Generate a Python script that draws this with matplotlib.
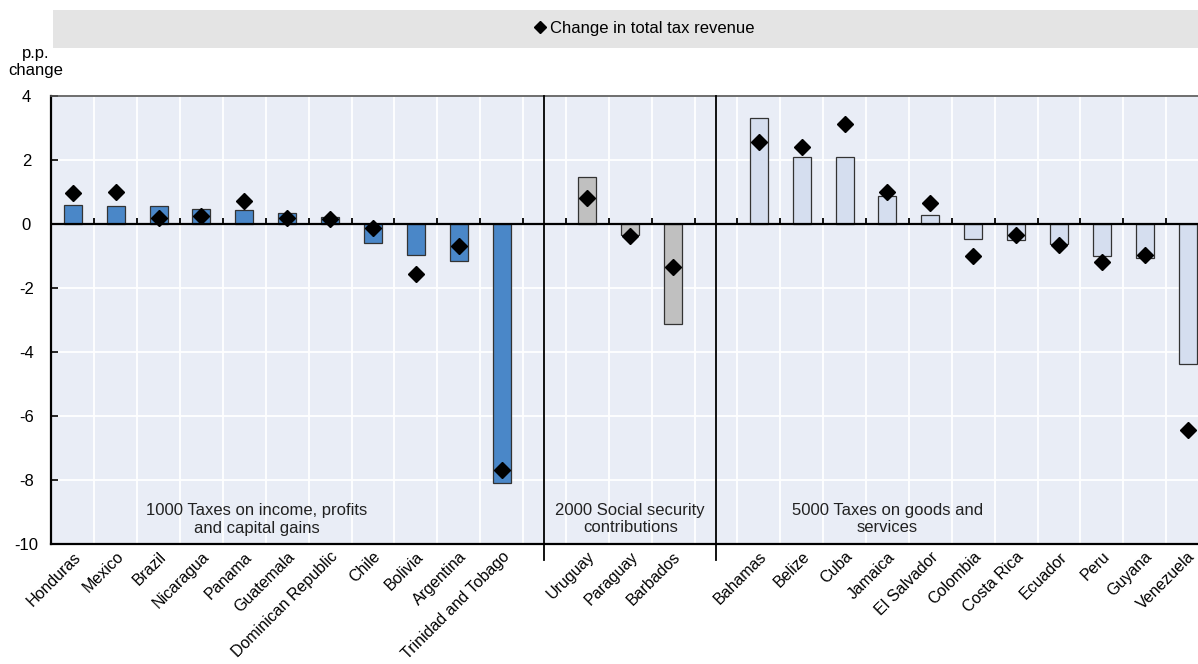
import matplotlib
matplotlib.use("Agg")
import matplotlib.pyplot as plt
from matplotlib.lines import Line2D
import numpy as np

plt.rcParams['font.family'] = ['Liberation Sans', 'DejaVu Sans']

group1 = ["Honduras", "Mexico", "Brazil", "Nicaragua", "Panama", "Guatemala",
          "Dominican Republic", "Chile", "Bolivia", "Argentina", "Trinidad and Tobago"]
bars1 = [0.58, 0.55, 0.54, 0.44, 0.41, 0.34, 0.19, -0.62, -0.97, -1.16, -8.10]
total1 = [0.96, 0.97, 0.18, 0.23, 0.70, 0.18, 0.13, -0.15, -1.58, -0.70, -7.70]

group2 = ["Uruguay", "Paraguay", "Barbados"]
bars2 = [1.44, -0.37, -3.15]
total2 = [0.81, -0.40, -1.37]

group3 = ["Bahamas", "Belize", "Cuba", "Jamaica", "El Salvador", "Colombia",
          "Costa Rica", "Ecuador", "Peru", "Guyana", "Venezuela"]
bars3 = [3.30, 2.09, 2.07, 0.85, 0.26, -0.47, -0.50, -0.63, -1.03, -1.09, -4.40]
total3 = [2.54, 2.39, 3.11, 0.98, 0.63, -1.03, -0.37, -0.68, -1.21, -0.97, -6.46]

group_labels = ["1000 Taxes on income, profits\nand capital gains",
                "2000 Social security\ncontributions",
                "5000 Taxes on goods and\nservices"]
legend_label = "Change in total tax revenue"
y_ticks = [4, 2, 0, -2, -4, -6, -8, -10]

colors = ["#4a87c8", "#c0c0c0", "#d5deef"]
bg = "#e9edf6"

fig = plt.figure(figsize=(11.98, 6.64), dpi=100)
ax = fig.add_axes([51.4 / 1198, (664 - 543.5) / 664, (1209 - 51.4) / 1198, (543.5 - 95.5) / 664])
ax.set_facecolor(bg)

groups = [(group1, bars1, total1), (group2, bars2, total2), (group3, bars3, total3)]
xpos_all, names_all = [], []
start = 0
seps = []
for gi, (names, vals, tots) in enumerate(groups):
    x = np.arange(start, start + len(names))
    ax.bar(x, vals, width=0.42, color=colors[gi], edgecolor="#333333", linewidth=0.9, zorder=3)
    ax.plot(x, tots, linestyle="none", marker="D", color="black", markersize=8.5, zorder=4)
    xpos_all.extend(x)
    names_all.extend(names)
    start += len(names)
    if gi < 2:
        seps.append(start)
        start += 1

n_slots = start
ax.set_xlim(-0.5, n_slots - 0.5)
ax.set_ylim(-10, 4)

# gridlines at slot boundaries
bnds = np.arange(0.5, n_slots - 0.5, 1.0)
for b in bnds:
    ax.axvline(b, color="white", lw=1.3, zorder=1)
for yv in y_ticks:
    ax.axhline(yv, color="white", lw=1.3, zorder=1)

# zero line and small ticks on it
ax.axhline(0, color="black", lw=1.6, zorder=5)
ax.vlines(bnds, 0, 0.16, color="black", lw=1.3, zorder=5)

# separators extending below axis
for s in seps:
    ax.plot([s, s], [4, -10.5], color="black", lw=1.3, zorder=6, clip_on=False)

# group labels
ax.text(4.29, -9.75, group_labels[0], ha="center", va="bottom", fontsize=12, color="#222222", zorder=6, linespacing=1.2)
ax.text(13.0, -9.75, group_labels[1], ha="center", va="bottom", fontsize=12, color="#222222", zorder=6, linespacing=1.2)
ax.text(19.0, -9.75, group_labels[2], ha="center", va="bottom", fontsize=12, color="#222222", zorder=6, linespacing=1.2)

ax.set_xticks(xpos_all)
ax.set_xticklabels(names_all, rotation=45, ha="right", rotation_mode="anchor", fontsize=11.5)
ax.tick_params(axis="x", length=0, pad=4)
ax.set_yticks(y_ticks)
ax.set_yticklabels([str(v) for v in y_ticks], fontsize=12)
ax.tick_params(axis="y", length=5, width=1.2, direction="in", pad=18)
for lbl in ax.get_yticklabels():
    lbl.set_horizontalalignment("center")

for sp in ["left", "bottom"]:
    ax.spines[sp].set_linewidth(1.6)
    ax.spines[sp].set_color("black")
ax.spines["top"].set_linewidth(1.2)
ax.spines["top"].set_color("#555555")
ax.spines["right"].set_visible(False)

# y axis title
fig.text(36 / 1198, 1 - 62 / 664, "p.p.\nchange", ha="center", va="center", fontsize=12, linespacing=1.1)

# legend bar
lax = fig.add_axes([53 / 1198, 1 - 47.5 / 664, (1198 - 53) / 1198, 37.5 / 664])
lax.set_facecolor("#e4e4e4")
lax.set_xticks([]); lax.set_yticks([])
for sp in lax.spines.values():
    sp.set_visible(False)
handle = Line2D([], [], linestyle="none", marker="D", color="black", markersize=6)
lax.legend([handle], [legend_label], loc="center", frameon=False, fontsize=12,
           handletextpad=0.1, handlelength=1.0, borderpad=0,
           bbox_to_anchor=(0.515, 0.5))

fig.savefig("out.png", dpi=100)
